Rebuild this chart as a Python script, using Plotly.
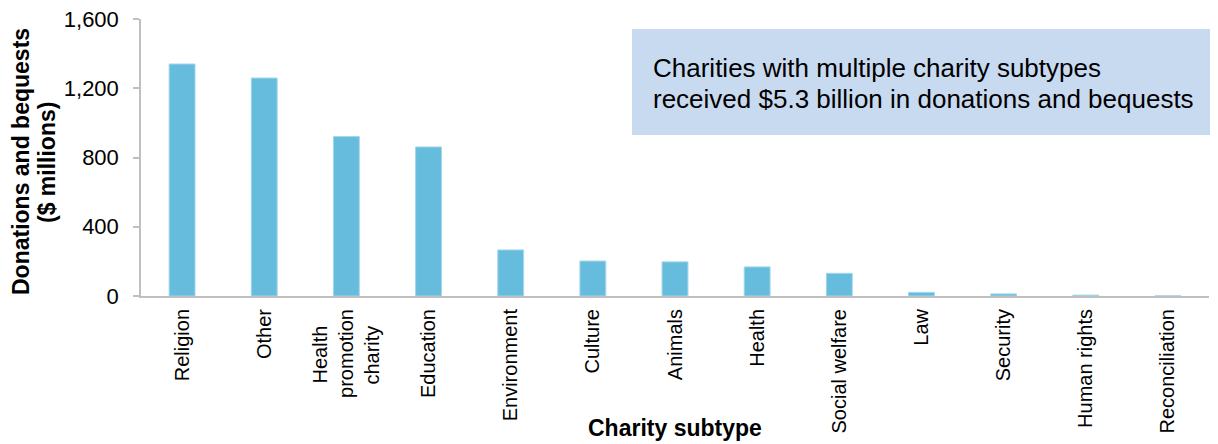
import plotly.graph_objects as go

categories = ["Religion", "Other", "Health promotion charity", "Education", "Environment",
              "Culture", "Animals", "Health", "Social welfare", "Law", "Security",
              "Human rights", "Reconciliation"]
values = [1340, 1259, 921, 861, 266, 202, 197, 168, 131, 21, 12, 5, 1]
tick_labels = ["Religion", "Other",
               "Health\u00a0\u00a0\u00a0<br>promotion<br>charity\u00a0\u00a0\u00a0",
               "Education", "Environment", "Culture", "Animals", "Health", "Social welfare",
               "Law", "Security", "Human rights", "Reconciliation"]
y_ticks = [0, 400, 800, 1200, 1600]
y_tick_text = ["0", "400", "800", "1,200", "1,600"]
y_title_lines = ["Donations and bequests", "($ millions)"]
x_title = "Charity subtype"
callout_lines = ["Charities with multiple charity subtypes",
                 "received $5.3 billion in donations and bequests"]

FONT = "Liberation Sans, Arial, sans-serif"
OFF = 8  # page body margin
W, H = 1218 - OFF, 444 - OFF
L, R, T, B = 141 - OFF, 9, 19 - OFF, 148
pw, ph = W - L - R, H - T - B

# helpers converting page pixel positions to paper coordinates
def px_x(x):
    return (x - OFF - L) / pw

def px_y(y):
    return (H - B - (y - OFF)) / ph

fig = go.Figure(go.Bar(
    x=categories, y=values,
    marker=dict(color="#66bcdc", line=dict(color="#a3d6ec", width=1)),
))

fig.update_layout(
    width=W, height=H,
    margin=dict(l=L, r=R, t=T, b=B, autoexpand=False),
    plot_bgcolor="white", paper_bgcolor="white",
    bargap=0.685,
    showlegend=False,
    font=dict(family=FONT, color="black"),
)

fig.update_xaxes(
    tickvals=categories, ticktext=tick_labels,
    tickangle=-90, tickfont=dict(size=20, color="black"),
    ticklabelstandoff=3, ticklabeloverflow="allow",
    showline=True, linecolor="#bfbfbf", linewidth=2,
    ticks="", showgrid=False,
    automargin=False,
)
fig.update_yaxes(
    range=[0, 1600], tickvals=y_ticks, ticktext=y_tick_text,
    tickfont=dict(size=22, color="black"),
    showline=True, linecolor="#bfbfbf", linewidth=1.5,
    ticks="outside", ticklen=6, tickcolor="#bfbfbf", tickwidth=1.5,
    ticklabelstandoff=10, ticklabeloverflow="allow",
    showgrid=False, zeroline=False,
    automargin=False,
)

# axis titles
fig.add_annotation(xref="paper", yref="paper", x=px_x(675), y=px_y(428),
                   xanchor="center", yanchor="middle", showarrow=False,
                   text=f"<b>{x_title}</b>",
                   font=dict(size=23, color="black", family=FONT))
for cx, line in zip([21, 47], y_title_lines):
    fig.add_annotation(xref="paper", yref="paper", x=px_x(cx), y=px_y(162),
                       xanchor="center", yanchor="middle", showarrow=False, textangle=-90,
                       text=f"<b>{line}</b>",
                       font=dict(size=23, color="black", family=FONT))

# callout box
fig.add_shape(type="rect", xref="paper", yref="paper",
              x0=px_x(632), x1=px_x(1218), y0=px_y(135), y1=px_y(29),
              fillcolor="#c8daf0", line=dict(width=0), layer="below")
for cy, line in zip([67.5, 99], callout_lines):
    fig.add_annotation(xref="paper", yref="paper", x=px_x(651), y=px_y(cy),
                       xanchor="left", yanchor="middle", showarrow=False,
                       text=line,
                       font=dict(size=26, color="black", family=FONT))

fig.write_html("out.html")
